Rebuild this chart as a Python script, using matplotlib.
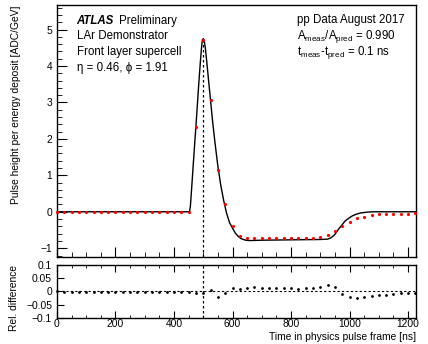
import matplotlib
matplotlib.use('Agg')
import matplotlib.pyplot as plt
from matplotlib.ticker import MultipleLocator

plt.rcParams['font.family'] = ['Liberation Sans', 'DejaVu Sans']
plt.rcParams['mathtext.fontset'] = 'custom'
plt.rcParams['mathtext.rm'] = 'Liberation Sans'
plt.rcParams['mathtext.it'] = 'Liberation Sans:italic'

# measured samples (red), every 25 ns
data_t = [0, 25, 50, 75, 100, 125, 150, 175, 200, 225, 250, 275, 300, 325, 350, 375,
          400, 425, 450, 475, 500, 525, 550, 575, 600, 625, 650, 675, 700, 725, 750,
          775, 800, 825, 850, 875, 900, 925, 950, 975, 1000, 1025, 1050, 1075, 1100,
          1125, 1150, 1175, 1200, 1225]
data_v = [0.0, 0.0, 0.0, -0.01, 0.0, -0.01, 0.0, -0.01, 0.0, -0.01, 0.0, 0.0, -0.01,
          0.0, 0.0, -0.01, 0.0, 0.0, -0.01, 2.32, 4.72, 3.07, 1.15, 0.21, -0.38, -0.66,
          -0.73, -0.73, -0.73, -0.72, -0.72, -0.72, -0.72, -0.72, -0.71, -0.71, -0.70,
          -0.63, -0.54, -0.39, -0.28, -0.18, -0.13, -0.08, -0.07, -0.06, -0.05, -0.05,
          -0.05, -0.04]

# predicted pulse shape (black line)
pred_t = [0, 450, 453, 456, 460, 465, 470, 475, 480, 485, 490, 494, 497, 500, 503, 507,
          512, 518, 525, 532, 540, 550, 560, 570, 580, 590, 600, 610, 620, 630, 645, 660,
          700, 800, 900, 925, 935, 945, 950, 960, 975, 985, 1000, 1010, 1025, 1040, 1060,
          1080, 1230]
pred_v = [0.0, 0.0, 0.0, 0.15, 0.6, 1.2, 1.78, 2.35, 2.95, 3.55, 4.1, 4.5, 4.72, 4.75,
          4.7, 4.5, 4.12, 3.62, 3.05, 2.48, 1.9, 1.25, 0.72, 0.3, -0.05, -0.3, -0.45,
          -0.59, -0.68, -0.74, -0.78, -0.79, -0.78, -0.77, -0.76, -0.75, -0.72, -0.66,
          -0.62, -0.5, -0.35, -0.25, -0.16, -0.11, -0.06, -0.03, -0.01, 0.0, 0.0]

# relative difference (lower panel)
rel_diff = [0.0, -0.002, -0.002, -0.003, -0.002, -0.002, -0.003, -0.002, -0.003,
            -0.002, -0.002, -0.003, -0.002, -0.002, -0.002, -0.002, -0.002, -0.003,
            -0.002, -0.006, -0.005, 0.004, -0.021, -0.005, 0.012, 0.010, 0.014, 0.015,
            0.014, 0.012, 0.011, 0.011, 0.011, 0.010, 0.011, 0.011, 0.015, 0.025, 0.016,
            -0.009, -0.023, -0.025, -0.023, -0.017, -0.014, -0.012, -0.010, -0.007,
            -0.005, -0.005]

peak_t = 500
peak_v = 4.72

fig = plt.figure(figsize=(4.28, 3.44), dpi=100)
ax = fig.add_axes([0.133, 0.253, 0.839, 0.732])
ax2 = fig.add_axes([0.133, 0.076, 0.839, 0.154])

xmax = 1227

ax.plot(pred_t, pred_v, color='black', lw=1.0, zorder=2)
ax.plot(data_t, data_v, 'o', color='red', ms=2.3, mec='none', zorder=3, clip_on=False)
ax.vlines(peak_t, -1.24, peak_v, colors='black', linestyles=(0, (2, 2)), lw=0.9, zorder=1)
ax.set_xlim(0, xmax)
ax.set_ylim(-1.24, 5.67)
ax.xaxis.set_major_locator(MultipleLocator(200))
ax.xaxis.set_minor_locator(MultipleLocator(50))
ax.yaxis.set_major_locator(MultipleLocator(1))
ax.yaxis.set_minor_locator(MultipleLocator(0.2))
ax.tick_params(which='both', direction='in', labelsize=7.4, labelbottom=False)
ax.tick_params(which='major', length=7)
ax.tick_params(which='minor', length=3.5)
ax.set_ylabel('Pulse height per energy deposit [ADC/GeV]', fontsize=7.4, loc='top')
ax.yaxis.set_label_coords(-0.1, 1.0)

ax.text(0.055, 0.938, 'ATLAS', transform=ax.transAxes, fontsize=8.3,
        fontweight='bold', style='italic', va='center')
ax.text(0.1735, 0.938, 'Preliminary', transform=ax.transAxes, fontsize=8.3, va='center')
ax.text(0.055, 0.878, 'LAr Demonstrator', transform=ax.transAxes, fontsize=8.3, va='center')
ax.text(0.055, 0.812, 'Front layer supercell', transform=ax.transAxes, fontsize=8.3,
        va='center')
ax.text(0.055, 0.751, 'η = 0.46, ϕ = 1.91', transform=ax.transAxes, fontsize=8.3,
        va='center')
ax.text(0.669, 0.94, 'pp Data August 2017', transform=ax.transAxes, fontsize=8.3,
        va='center')
ax.text(0.669, 0.877, r'A$_{\rm meas}$/A$_{\rm pred}$ = 0.990', transform=ax.transAxes,
        fontsize=8.3, va='center')
ax.text(0.669, 0.813, r't$_{\rm meas}$-t$_{\rm pred}$ = 0.1 ns', transform=ax.transAxes,
        fontsize=8.3, va='center')

ax2.plot(data_t, rel_diff, 'o', color='black', ms=2.0, mec='none', clip_on=False)
ax2.axhline(0, color='black', ls=(0, (2, 2)), lw=0.8)
ax2.axvline(peak_t, color='black', ls=(0, (2, 2)), lw=0.9)
ax2.set_xlim(0, xmax)
ax2.set_ylim(-0.1, 0.1)
ax2.set_yticks([-0.1, -0.05, 0, 0.05, 0.1])
ax2.set_yticklabels(['\u22120.1', '\u22120.05', '0', '0.05', '0.1'])
ax2.xaxis.set_major_locator(MultipleLocator(200))
ax2.xaxis.set_minor_locator(MultipleLocator(50))
ax2.tick_params(which='both', direction='in', labelsize=7.4, top=True)
ax2.tick_params(which='major', length=5)
ax2.tick_params(which='minor', length=2.5)
ax2.tick_params(axis='x', pad=1)
ax2.set_xlabel('Time in physics pulse frame [ns]', fontsize=7.4, loc='right', labelpad=2)
ax2.set_ylabel('Rel. difference', fontsize=7.4, loc='top')
ax2.yaxis.set_label_coords(-0.105, 1.0)

for a in (ax, ax2):
    for s in a.spines.values():
        s.set_linewidth(1.0)

fig.savefig('out.png', dpi=100)
